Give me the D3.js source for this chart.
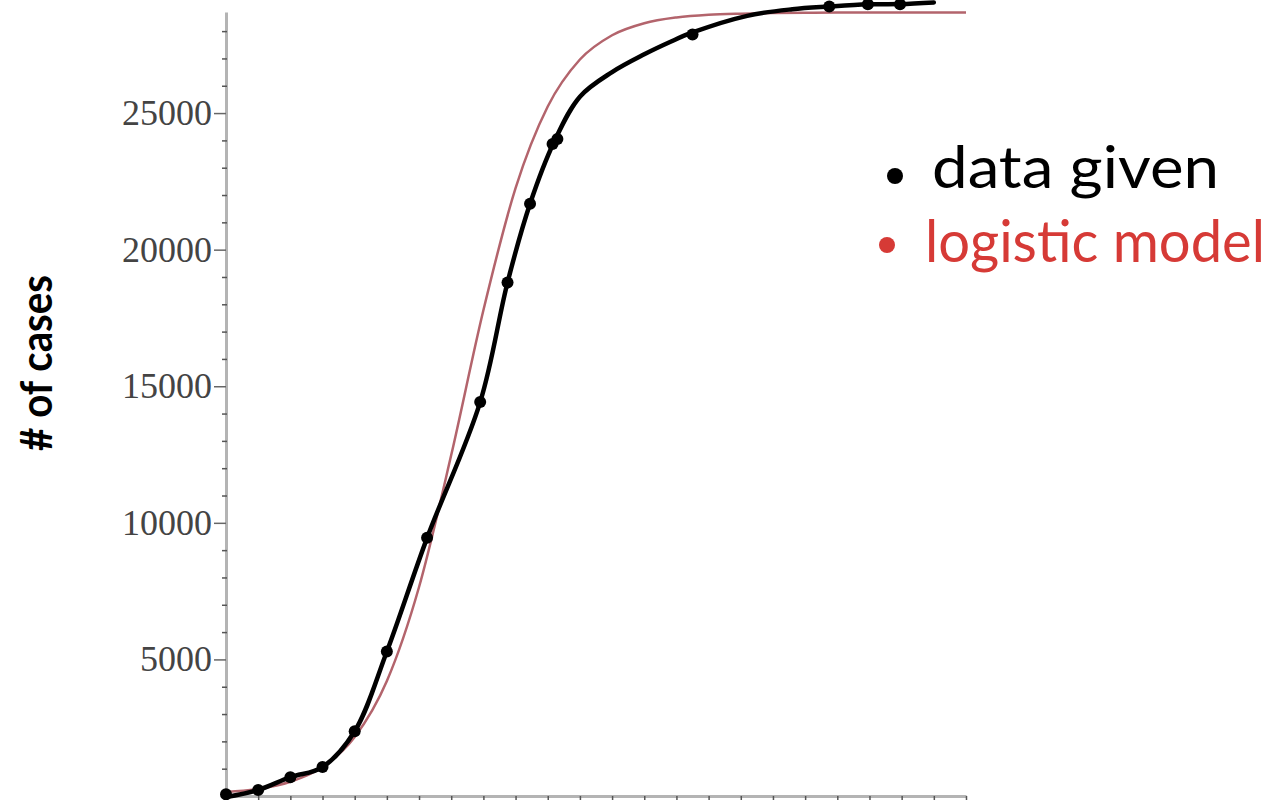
<!DOCTYPE html>
<html>
<head>
<meta charset="utf-8">
<script src="https://cdn.jsdelivr.net/npm/d3@7"></script>
<style>
  body { margin: 0; background: #fff; }
  svg { display: block; }
</style>
</head>
<body>
<svg id="chart" width="1278" height="800"></svg>
<script>
// reported cases vs logistic fit

var dataDays  = [0, 1, 2, 3, 4, 5, 6.25, 7.9, 8.75, 9.45, 10.15, 10.3, 14.5, 18.75, 19.95, 20.95];
var dataCases = [60, 220, 690, 1060, 2370, 5290, 9450, 14420, 18800, 21680, 23870, 24050, 27880, 28900, 28980, 28980];

// hand drawn line through the dots (extra points)
var lineDays  = [0, 1, 2, 3, 4, 5, 6.25, 7.9, 8.75, 9.45, 10.2, 11.0, 12.0, 13.0, 13.8, 14.5, 16.2, 17.6, 18.75, 19.95, 20.95, 22];
var lineCases = [-40, 220, 690, 1060, 2370, 5290, 9450, 14420, 18800, 21680, 23950, 25600, 26500, 27150, 27600, 27950, 28560, 28800, 28900, 28980, 28990, 29050];

var modelDays  = [0, 1, 2, 3, 4, 5, 6, 7, 8, 9, 10, 11, 12, 13, 14, 15, 16, 17, 18, 19, 20, 21, 22, 23];
var modelCases = [150, 260, 520, 1060, 2160, 4210, 7650, 12480, 17780, 22250, 25240, 26960, 27850, 28290, 28500, 28600, 28640, 28660, 28670, 28680, 28680, 28680, 28680, 28680];

var yMajor = [5000, 10000, 15000, 20000, 25000];
var yMinor = [1000, 2000, 3000, 4000, 6000, 7000, 8000, 9000, 11000, 12000, 13000, 14000,
              16000, 17000, 18000, 19000, 21000, 22000, 23000, 24000, 26000, 27000, 28000];
var xTicks = [1, 2, 3, 4, 5, 6, 7, 8, 9, 10, 11, 12, 13, 14, 15, 16, 17, 18, 19, 20, 21, 22, 23];

var legendItems = ["data given", "logistic model"];
var legendColors = ["#000", "#d63a36"];

var svg = d3.select("#chart");

var x = d3.scaleLinear().domain([0, 23]).range([226, 966]);
var y = d3.scaleLinear().domain([0, 28700]).range([796, 12]);

// axes
var gy = svg.append("g").attr("transform", "translate(" + x(0) + ",0)")
  .call(d3.axisLeft(y).tickValues(yMajor).tickSize(12).tickSizeOuter(0).tickPadding(2)
    .tickFormat(d3.format("d")));
gy.select(".domain").attr("stroke", "#b4b4b4").attr("stroke-width", 3);
gy.selectAll(".tick line").attr("stroke", "#666").attr("stroke-width", 1.5);
gy.selectAll(".tick text")
  .attr("font-family", "'Liberation Serif', serif")
  .attr("font-size", 36)
  .attr("fill", "#444");

var gyMinor = svg.append("g").attr("transform", "translate(" + (x(0) + 1) + ",0)")
  .call(d3.axisLeft(y).tickValues(yMinor).tickSize(5).tickFormat(""));
gyMinor.select(".domain").remove();
gyMinor.selectAll(".tick line").attr("stroke", "#555").attr("stroke-width", 1.5);

var gx = svg.append("g").attr("transform", "translate(0," + y(0) + ")")
  .call(d3.axisBottom(x).tickValues(xTicks).tickSize(5).tickSizeOuter(0).tickFormat(""));
gx.select(".domain").attr("stroke", "#b4b4b4").attr("stroke-width", 3);
gx.selectAll(".tick line").attr("stroke", "#555").attr("stroke-width", 1.5);

// logistic model
var modelLine = d3.line()
  .x(function(d, i) { return x(modelDays[i]); })
  .y(function(d) { return y(d); })
  .curve(d3.curveMonotoneX);

svg.append("path")
  .attr("d", modelLine(modelCases))
  .attr("fill", "none")
  .attr("stroke", "#b3646c")
  .attr("stroke-width", 2.5);

// sketched data line
var dataLine = d3.line()
  .x(function(d, i) { return x(lineDays[i]); })
  .y(function(d) { return y(d); })
  .curve(d3.curveCatmullRom);

svg.append("path")
  .attr("d", dataLine(lineCases))
  .attr("fill", "none")
  .attr("stroke", "#000")
  .attr("stroke-width", 4.5)
  .attr("stroke-linecap", "round")
  .attr("stroke-linejoin", "round");

svg.selectAll("circle.dot")
  .data(dataCases)
  .enter().append("circle")
  .attr("class", "dot")
  .attr("cx", function(d, i) { return x(dataDays[i]); })
  .attr("cy", function(d) { return y(d); })
  .attr("r", 6)
  .attr("fill", "#000");

// y label
svg.append("text")
  .attr("transform", "translate(52,363) rotate(-90)")
  .attr("text-anchor", "middle")
  .attr("font-family", "Lato, sans-serif")
  .attr("font-weight", "bold")
  .attr("font-size", 44)
  .attr("textLength", 176)
  .attr("lengthAdjust", "spacingAndGlyphs")
  .text("# of cases");

// legend
var legend = svg.append("g");
var legendY = [188, 262];
var legendW = [287, 340];
var legendX = [932, 925];

legend.selectAll("circle")
  .data(legendItems)
  .enter().append("circle")
  .attr("cx", function(d, i) { return i ? 887 : 895; })
  .attr("cy", function(d, i) { return legendY[i] - 12 - i * 5; })
  .attr("r", 8)
  .attr("fill", function(d, i) { return legendColors[i]; });

legend.selectAll("text")
  .data(legendItems)
  .enter().append("text")
  .attr("x", function(d, i) { return legendX[i]; })
  .attr("y", function(d, i) { return legendY[i]; })
  .attr("font-family", "Lato, sans-serif")
  .attr("font-size", 58)
  .attr("textLength", function(d, i) { return legendW[i]; })
  .attr("lengthAdjust", "spacingAndGlyphs")
  .attr("fill", function(d, i) { return legendColors[i]; })
  .text(function(d) { return d; });
</script>
</body>
</html>
